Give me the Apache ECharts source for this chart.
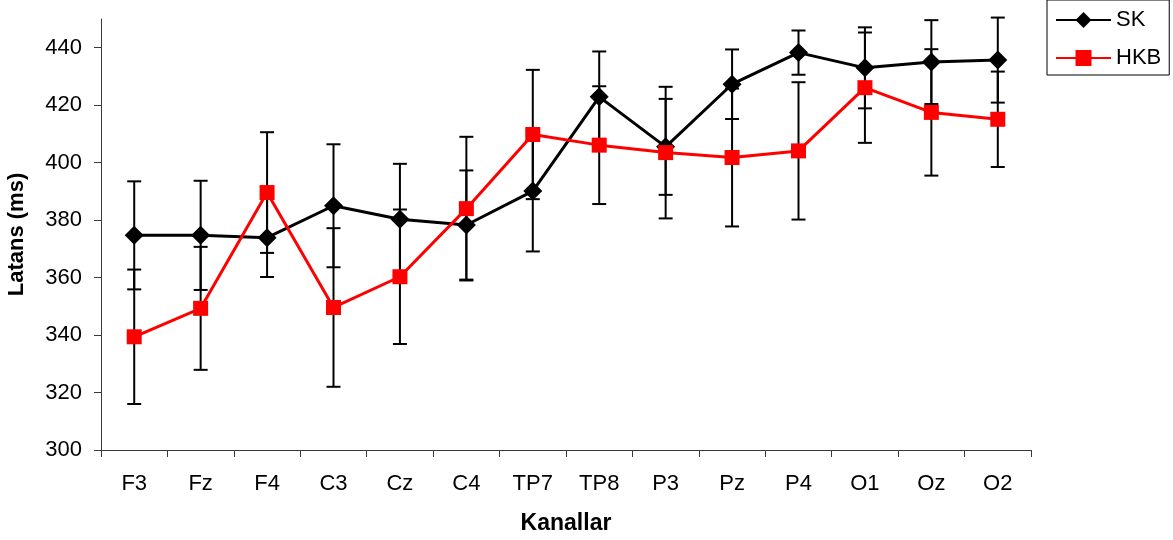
<!DOCTYPE html>
<html>
<head>
<meta charset="utf-8">
<script src="https://cdn.jsdelivr.net/npm/echarts@6/dist/echarts.min.js"></script>
<style>
  html, body { margin: 0; padding: 0; background: #fff; }
  #chart { width: 1173px; height: 540px; }
</style>
</head>
<body>
<div id="chart"></div>
<script>
// Kanallar (x kategorileri)
const categories = ['F3', 'Fz', 'F4', 'C3', 'Cz', 'C4', 'TP7', 'TP8', 'P3', 'Pz', 'P4', 'O1', 'Oz', 'O2']

// SK: ortalama + SD
const skMean = [374.7, 374.7, 373.9, 385.0, 380.3, 378.3, 390.1, 422.9, 405.5, 427.3, 438.3, 433.0, 435.0, 435.7]
const skSd = [18.8, 19.0, 13.7, 21.4, 19.3, 19.0, 21.0, 15.8, 16.7, 12.1, 7.7, 14.1, 14.6, 14.8]

// HKB: ortalama + SD
const hkbMean = [339.4, 349.3, 389.6, 349.6, 360.3, 384.0, 409.8, 406.1, 403.5, 401.8, 404.1, 426.1, 417.5, 415.1]
const hkbSd = [23.4, 21.4, 21.0, 27.6, 23.4, 25.0, 22.5, 20.5, 22.9, 24.0, 23.9, 19.2, 22.0, 16.6]

const yTicks = [300, 320, 340, 360, 380, 400, 420, 440]

const FONT = "'Liberation Sans', Arial, sans-serif"
const AXIS_COLOR = '#3a3a3a'

const errData = (mean, sd) => mean.map((m, i) => [i, m - sd[i], m + sd[i]])

// hata çubuğu: dikey çizgi + iki uç
const renderErr = (params, api) => {
    const lo = api.coord([api.value(0), api.value(1)])
    const hi = api.coord([api.value(0), api.value(2)])
    const hw = 7
    const style = { stroke: '#000', lineWidth: 2 }
    return {
        type: 'group',
        children: [
            { type: 'line', shape: { x1: hi[0], y1: hi[1], x2: lo[0], y2: lo[1] }, style },
            { type: 'line', shape: { x1: hi[0] - hw, y1: hi[1], x2: hi[0] + hw, y2: hi[1] }, style },
            { type: 'line', shape: { x1: lo[0] - hw, y1: lo[1], x2: lo[0] + hw, y2: lo[1] }, style }
        ]
    }
}

const chart = echarts.init(document.getElementById('chart'), null, { renderer: 'canvas' })

chart.setOption({
    animation: false,
    textStyle: { fontFamily: FONT },
    grid: { left: 101, right: 142, top: 19, bottom: 90, containLabel: false, outerBoundsMode: 'none' },
    legend: {
        orient: 'vertical',
        left: 1047,
        top: 0,
        padding: [9, 8, 6, 8],
        itemWidth: 55,
        itemHeight: 20,
        itemGap: 16,
        borderColor: '#000',
        borderWidth: 1,
        textStyle: { fontFamily: FONT, fontSize: 22, color: '#000' },
        data: ['SK', 'HKB']
    },
    xAxis: {
        type: 'category',
        data: categories,
        boundaryGap: true,
        axisLine: { lineStyle: { color: AXIS_COLOR, width: 1 } },
        axisTick: { show: true, length: 7, lineStyle: { color: AXIS_COLOR } },
        axisLabel: { color: '#000', fontSize: 22, fontFamily: FONT, margin: 23, interval: 0 },
        splitLine: { show: false },
        name: 'Kanallar',
        nameLocation: 'middle',
        nameGap: 62,
        nameTextStyle: { color: '#000', fontSize: 23, fontWeight: 'bold', fontFamily: FONT }
    },
    yAxis: {
        type: 'value',
        min: 300,
        max: 450,
        interval: 20,
        axisLine: { show: true, lineStyle: { color: AXIS_COLOR, width: 1 } },
        axisTick: { show: true, length: 7, lineStyle: { color: AXIS_COLOR }, customValues: yTicks },
        axisLabel: { color: '#000', fontSize: 22, fontFamily: FONT, margin: 19, customValues: yTicks },
        splitLine: { show: false },
        name: 'Latans (ms)',
        nameLocation: 'middle',
        nameRotate: 90,
        nameGap: 73,
        nameTextStyle: { color: '#000', fontSize: 22, fontWeight: 'bold', fontFamily: FONT }
    },
    series: [
        {
            name: 'SK-err',
            type: 'custom',
            renderItem: renderErr,
            data: errData(skMean, skSd),
            z: 1,
            silent: true,
            clip: false
        },
        {
            name: 'HKB-err',
            type: 'custom',
            renderItem: renderErr,
            data: errData(hkbMean, hkbSd),
            z: 1,
            silent: true,
            clip: false
        },
        {
            name: 'SK',
            type: 'line',
            data: skMean,
            symbol: 'diamond',
            symbolSize: [19, 19],
            color: '#000',
            lineStyle: { color: '#000', width: 3 },
            itemStyle: { color: '#000' },
            z: 3
        },
        {
            name: 'HKB',
            type: 'line',
            data: hkbMean,
            symbol: 'rect',
            symbolSize: [15, 15],
            color: '#ff0000',
            lineStyle: { color: '#ff0000', width: 3 },
            itemStyle: { color: '#ff0000' },
            z: 4
        }
    ]
})
</script>
</body>
</html>
